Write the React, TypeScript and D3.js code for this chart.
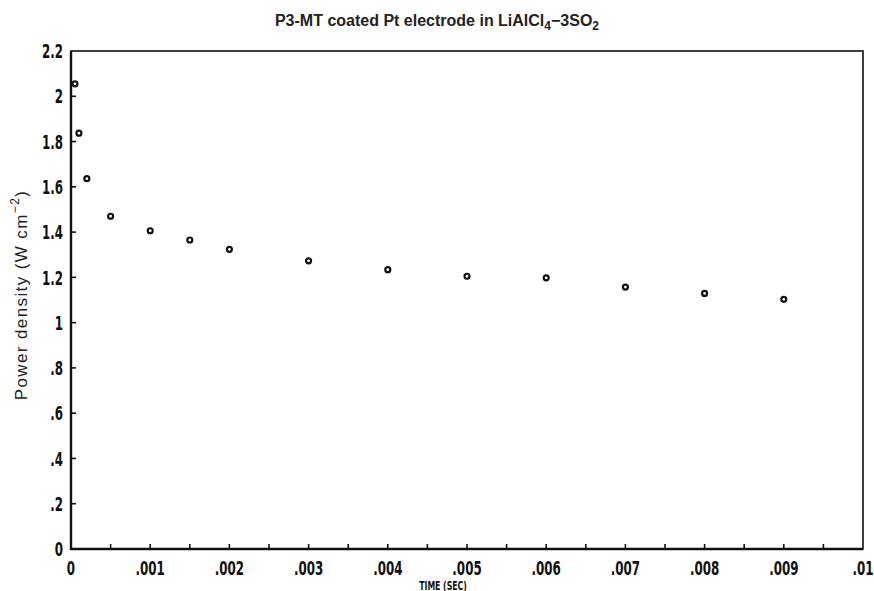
import React, { useRef, useEffect } from 'react';
import * as d3 from 'd3';

// time (s) and power density (W cm^-2)
const timeSec = [0.00005, 0.0001, 0.0002, 0.0005, 0.001, 0.0015, 0.002, 0.003, 0.004, 0.005, 0.006, 0.007, 0.008, 0.009];
const powerDensity = [2.055, 1.837, 1.636, 1.47, 1.406, 1.365, 1.324, 1.273, 1.234, 1.205, 1.198, 1.157, 1.129, 1.103];

const xTickValues = [0, 0.001, 0.002, 0.003, 0.004, 0.005, 0.006, 0.007, 0.008, 0.009, 0.01];
const xTickLabels = ['0', '.001', '.002', '.003', '.004', '.005', '.006', '.007', '.008', '.009', '.01'];
const xMinorTicks = [0.0005, 0.0015, 0.0025, 0.0035, 0.0045, 0.0055, 0.0065, 0.0075, 0.0085, 0.0095];
const yTickValues = [0, 0.2, 0.4, 0.6, 0.8, 1, 1.2, 1.4, 1.6, 1.8, 2, 2.2];
const yTickLabels = ['0', '.2', '.4', '.6', '.8', '1', '1.2', '1.4', '1.6', '1.8', '2', '2.2'];

const W = 874;
const H = 591;
const margin = { left: 71, top: 51, right: 11, bottom: 42 };

const tickFont = "'DejaVu Sans Condensed', 'DejaVu Sans', sans-serif";
const labelFont = "'Liberation Sans', Arial, sans-serif";
const squeeze = 0.66;

const App = () => {
  const svgRef = useRef<SVGSVGElement>(null);

  useEffect(() => {
    const svg = d3.select(svgRef.current);
    svg.selectAll('*').remove();

    const x = d3.scaleLinear().domain([0, 0.01]).range([margin.left, W - margin.right]);
    const y = d3.scaleLinear().domain([0, 2.2]).range([H - margin.bottom, margin.top]);

    // frame
    svg.append('rect')
      .attr('x', x(0)).attr('y', y(2.2))
      .attr('width', x(0.01) - x(0)).attr('height', y(0) - y(2.2))
      .attr('fill', 'none').attr('stroke', '#111').attr('stroke-width', 1.6);
    svg.append('path')
      .attr('d', `M${x(0)},${y(2.2)}V${y(0)}H${x(0.01)}`)
      .attr('fill', 'none').attr('stroke', '#111').attr('stroke-width', 2.4);

    // x ticks (pointing inward)
    svg.append('g').selectAll('line')
      .data([...xTickValues.slice(1, -1), ...xMinorTicks])
      .enter().append('line')
      .attr('x1', d => x(d)).attr('x2', d => x(d))
      .attr('y1', y(0)).attr('y2', y(0) - 5)
      .attr('stroke', '#111').attr('stroke-width', 1.6);

    svg.append('g').selectAll('text')
      .data(xTickValues)
      .enter().append('text')
      .attr('transform', d => `translate(${x(d)},575) scale(${squeeze},1)`)
      .attr('text-anchor', 'middle')
      .style('font-family', tickFont).style('font-weight', '700').style('font-size', '20px')
      .attr('fill', '#111')
      .text((d, i) => xTickLabels[i]);

    // y ticks
    svg.append('g').selectAll('line')
      .data(yTickValues.slice(1, -1))
      .enter().append('line')
      .attr('x1', x(0)).attr('x2', x(0) + 5)
      .attr('y1', d => y(d)).attr('y2', d => y(d))
      .attr('stroke', '#111').attr('stroke-width', 1.6);

    svg.append('g').selectAll('text')
      .data(yTickValues)
      .enter().append('text')
      .attr('transform', d => `translate(63,${y(d)}) scale(${squeeze},1)`)
      .attr('dy', '0.36em')
      .attr('text-anchor', 'end')
      .style('font-family', tickFont).style('font-weight', '700').style('font-size', '20px')
      .attr('fill', '#111')
      .text((d, i) => yTickLabels[i]);

    // points
    svg.append('g').selectAll('circle')
      .data(timeSec.map((t, i) => [t, powerDensity[i]]))
      .enter().append('circle')
      .attr('cx', d => x(d[0])).attr('cy', d => y(d[1]))
      .attr('r', 2.5)
      .attr('fill', '#fff').attr('stroke', '#111').attr('stroke-width', 2.2);

    // title
    const title = svg.append('text')
      .attr('x', 437).attr('y', 26)
      .attr('text-anchor', 'middle')
      .style('font-family', labelFont).style('font-size', '16px').style('font-weight', '700')
      .attr('fill', '#222');
    title.append('tspan').text('P3-MT coated Pt electrode in LiAlCl');
    title.append('tspan').attr('dy', 4).style('font-size', '12px').text('4');
    title.append('tspan').attr('dy', -4).text('\u22123SO');
    title.append('tspan').attr('dy', 4).style('font-size', '12px').text('2');

    // y label
    const yl = svg.append('text')
      .attr('transform', 'translate(27, 295) rotate(-90)')
      .attr('text-anchor', 'middle')
      .style('font-family', labelFont).style('font-size', '17px').style('letter-spacing', '1.4px')
      .attr('fill', '#222');
    yl.append('tspan').text('Power density (W cm');
    yl.append('tspan').attr('dy', -8).style('font-size', '12px').text('\u22122');
    yl.append('tspan').attr('dy', 8).text(')');

    // x label
    svg.append('text')
      .attr('transform', `translate(443,590) scale(0.72,1)`)
      .attr('text-anchor', 'middle')
      .style('font-family', tickFont).style('font-weight', '700').style('font-size', '12px')
      .attr('fill', '#111')
      .text('TIME (SEC)');
  }, []);

  return (
    <svg ref={svgRef} width={W} height={H} style={{ position: 'absolute', left: 0, top: 0, background: '#fff' }}></svg>
  );
};

export default App;
